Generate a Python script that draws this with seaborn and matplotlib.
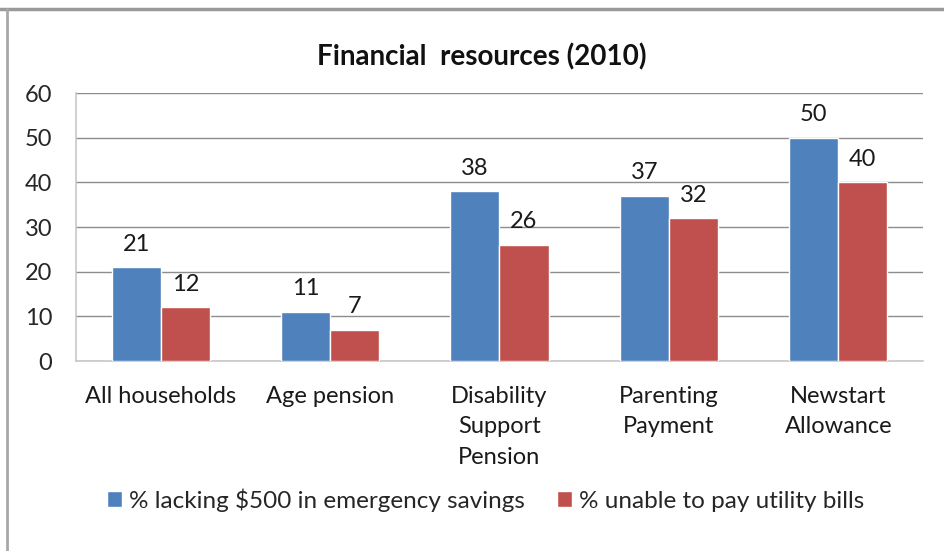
import matplotlib
matplotlib.use("Agg")
import matplotlib.pyplot as plt
from matplotlib.lines import Line2D
import seaborn as sns
import pandas as pd

categories = ["All households", "Age pension", "Disability\nSupport\nPension",
              "Parenting\nPayment", "Newstart\nAllowance"]
series_names = ["% lacking $500 in emergency savings", "% unable to pay utility bills"]
lacking_savings = [21, 11, 38, 37, 50]
unable_to_pay = [12, 7, 26, 32, 40]
y_ticks = [0, 10, 20, 30, 40, 50, 60]
colors = ["#4F81BD", "#C0504D"]

df = pd.DataFrame({
    "category": categories * 2,
    "series": [series_names[0]] * len(categories) + [series_names[1]] * len(categories),
    "value": lacking_savings + unable_to_pay,
})

sns.set_theme(style="white")
plt.rcParams["font.family"] = ["Lato", "DejaVu Sans"]

fig = plt.figure(figsize=(9.45, 5.51), dpi=100)
ax = fig.add_axes([0.0804, 0.3448, 0.8963, 0.4864])

sns.barplot(data=df, x="category", y="value", hue="series", order=categories,
            hue_order=series_names, palette=colors, width=0.58, gap=0,
            saturation=1, errorbar=None, ax=ax, zorder=3)

ax.set_ylim(0, 60)
ax.set_xlim(-0.5, len(categories) - 0.5)
ax.set_yticks(y_ticks)
ax.set_yticklabels([str(t) for t in y_ticks], fontsize=17, color="#262626")
ax.tick_params(axis="y", length=0, pad=17)
ax.tick_params(axis="x", length=0, pad=18)
for lbl in ax.get_xticklabels():
    lbl.set_fontsize(17)
    lbl.set_color("#1a1a1a")
    lbl.set_linespacing(1.55)
    lbl.set_verticalalignment("top")
ax.set_xlabel("")
ax.set_ylabel("")

ax.yaxis.grid(True, color="#8c8c8c", linewidth=1.0, zorder=0)
ax.set_axisbelow(True)
for side in ["top", "right"]:
    ax.spines[side].set_visible(False)
for side in ["left", "bottom"]:
    ax.spines[side].set_color("#c8c8c8")
    ax.spines[side].set_linewidth(1.2)

for container in ax.containers:
    ax.bar_label(container, fmt="%d", padding=9, fontsize=17, color="#1a1a1a")

ax.set_title("Financial  resources (2010)", fontsize=20, fontweight="bold",
             color="#111111", pad=20, x=0.479)

handles, labels = ax.get_legend_handles_labels()
ax.legend(handles, labels, loc="center", bbox_to_anchor=(0.514, 0.093),
          bbox_transform=fig.transFigure, ncol=2, frameon=False, fontsize=17.5,
          handlelength=0.62, handleheight=0.62, handletextpad=0.3,
          columnspacing=1.3)

# outer chart frame (top and left edges)
fig.add_artist(Line2D([0.0, 1.0], [0.984, 0.984], transform=fig.transFigure,
                      color="#9a9a9a", linewidth=2.5))
fig.add_artist(Line2D([0.0078, 0.0078], [0.0, 0.984], transform=fig.transFigure,
                      color="#a8a8a8", linewidth=2.0))

fig.savefig("out.png", dpi=100)
